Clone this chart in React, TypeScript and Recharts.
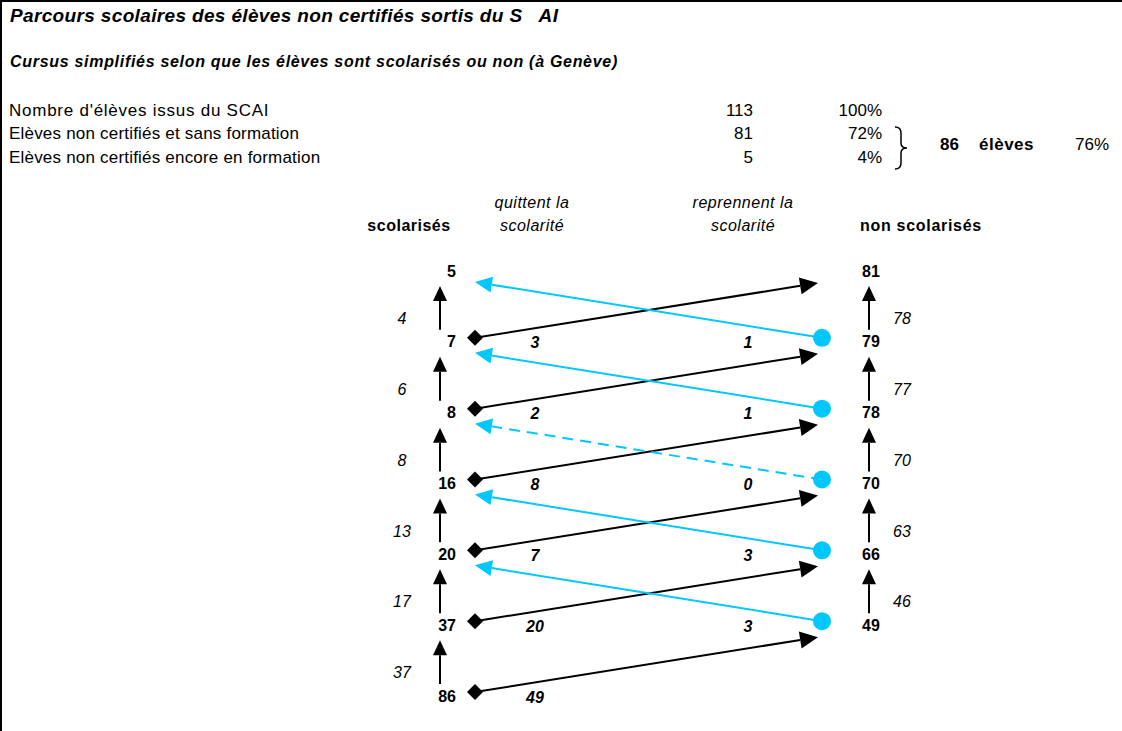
import React from 'react';
import { ComposedChart, Scatter, XAxis, YAxis, ReferenceLine } from 'recharts';

// rows from bottom (oldest) to top
const years = ['1995/96', '1996/97', '1997/98', '1998/99', '1999/00', '2000/01', '2001/02'];
const scolarises = [86, 37, 20, 16, 8, 7, 5];
const nonScolarises = [null, 49, 66, 70, 78, 79, 81];
// flows from year i to year i+1
const quittent = [49, 20, 7, 8, 2, 3];
const reprennent = [null, 3, 3, 0, 1, 1];
const restentScol = [37, 17, 13, 8, 6, 4];
const restentNon = [null, 46, 63, 70, 77, 78];

const summaryLabels = [
  "Nombre d'élèves issus du SCAI",
  'Elèves non certifiés et sans formation',
  'Elèves non certifiés encore en formation',
];
const summaryCounts = [113, 81, 5];
const summaryPct = ['100%', '72%', '4%'];
const groupTotal = 86;
const groupPct = '76%';

const W = 1122;
const H = 731;
const FONT = '"Liberation Sans", Arial, Helvetica, sans-serif';
const CYAN = '#00C8FF';

// pixel anchors for the two columns and for the bottom/top rows
const COL0 = 447;
const COL1 = 872;
const ROW0 = 696;
const ROW6 = 271;
const pxCol = COL1 - COL0;
const pxRow = (ROW0 - ROW6) / 6;
const X_DOMAIN: [number, number] = [-COL0 / pxCol, (W - COL0) / pxCol];
const Y_DOMAIN: [number, number] = [(ROW0 - H) / pxRow, ROW0 / pxRow];

const head = (sx: number, sy: number, tx: number, ty: number, len: number, half: number) => {
  const dx = tx - sx;
  const dy = ty - sy;
  const d = Math.hypot(dx, dy) || 1;
  const ux = dx / d;
  const uy = dy / d;
  const bx = tx - ux * len;
  const by = ty - uy * len;
  return {
    bx,
    by,
    points: `${tx},${ty} ${bx - uy * half},${by + ux * half} ${bx + uy * half},${by - ux * half}`,
  };
};

const QuitArrow = (p: any) => {
  const sx = p.x1 + 28, sy = p.y1 - 4, tx = p.x2 - 54, ty = p.y2 + 12;
  const h = head(sx, sy, tx, ty, 18, 8.5);
  return (
    <g>
      <line x1={sx} y1={sy} x2={h.bx} y2={h.by} stroke="#000" strokeWidth={2} />
      <polygon points={h.points} fill="#000" />
      <polygon points={`${sx - 8},${sy} ${sx},${sy - 8} ${sx + 8},${sy} ${sx},${sy + 8}`} fill="#000" />
    </g>
  );
};

const ReturnArrow = (dashed: boolean) => (p: any) => {
  const sx = p.x1 - 50, sy = p.y1 - 4, tx = p.x2 + 28, ty = p.y2 + 11;
  const h = head(sx, sy, tx, ty, 17, 8);
  return (
    <g>
      <line
        x1={sx} y1={sy} x2={h.bx} y2={h.by}
        stroke={CYAN} strokeWidth={2}
        strokeDasharray={dashed ? '11 7' : undefined}
      />
      <polygon points={h.points} fill={CYAN} />
      <circle cx={sx} cy={sy} r={9} fill={CYAN} />
    </g>
  );
};

const UpArrow = (dxPx: number) => (p: any) => {
  const x = p.x1 + dxPx, sy = p.y1 - 12, ty = p.y2 + 15;
  const h = head(x, sy, x, ty, 15, 7);
  return (
    <g>
      <line x1={x} y1={sy} x2={x} y2={h.by} stroke="#000" strokeWidth={2} />
      <polygon points={h.points} fill="#000" />
    </g>
  );
};

const txt = (dx: number, dy: number, anchor: string, weight: string, italic: boolean) => (p: any) => (
  <text
    x={p.cx + dx}
    y={p.cy + dy}
    dy="0.35em"
    textAnchor={anchor}
    fontFamily={FONT}
    fontSize={16}
    fontWeight={weight}
    fontStyle={italic ? 'italic' : 'normal'}
    fill="#000"
  >
    {p.payload.v}
  </text>
);

const YearTick = (p: any) => {
  const label = years[p.payload.value];
  return (
    <g>
      <text x={9} y={p.y} dy="0.35em" fontFamily={FONT} fontSize={17} fill="#000">année scolaire</text>
      <text x={182} y={p.y} dy="0.35em" fontFamily={FONT} fontSize={17} fill="#000">{label}</text>
    </g>
  );
};

const Label = ({ x, y, size = 17, anchor = 'start', bold = false, italic = false, spacing = 0, children }: any) => (
  <div
    style={{
      position: 'absolute',
      left: x,
      top: y - size / 2 - 1,
      fontSize: size,
      lineHeight: `${size + 2}px`,
      fontWeight: bold ? 'bold' : 'normal',
      fontStyle: italic ? 'italic' : 'normal',
      letterSpacing: spacing,
      whiteSpace: 'pre',
      transform: anchor === 'end' ? 'translateX(-100%)' : anchor === 'middle' ? 'translateX(-50%)' : undefined,
    }}
  >
    {children}
  </div>
);

export default function App() {
  const scolData = scolarises.map((v, i) => ({ x: 0, y: i, v }));
  const nonData = nonScolarises.flatMap((v, i) => (v == null ? [] : [{ x: 1, y: i, v }]));
  const quitData = quittent.map((v, i) => ({ x: 0, y: i, v }));
  const retData = reprennent.flatMap((v, i) => (v == null ? [] : [{ x: 1, y: i, v }]));
  const stayScolData = restentScol.map((v, i) => ({ x: 0, y: i + 0.5, v }));
  const stayNonData = restentNon.flatMap((v, i) => (v == null ? [] : [{ x: 1, y: i + 0.5, v }]));

  return (
    <div
      style={{
        position: 'absolute',
        left: 0,
        top: 0,
        width: W,
        height: H,
        background: '#fff',
        fontFamily: FONT,
        color: '#000',
        overflow: 'hidden',
      }}
    >
      <ComposedChart width={W} height={H} margin={{ top: 0, right: 0, bottom: 0, left: 0 }}>
        <XAxis type="number" dataKey="x" domain={X_DOMAIN} hide />
        <YAxis
          type="number"
          dataKey="y"
          domain={Y_DOMAIN}
          ticks={years.map((_, i) => i)}
          interval={0}
          width={0}
          axisLine={false}
          tickLine={false}
          tick={<YearTick />}
        />
        {quittent.map((v, i) => (
          <ReferenceLine
            key={`q${i}`}
            segment={[{ x: 0, y: i }, { x: 1, y: i + 1 }]}
            ifOverflow="visible"
            shape={QuitArrow}
          />
        ))}
        {reprennent.map((v, i) =>
          v == null ? null : (
            <ReferenceLine
              key={`r${i}`}
              segment={[{ x: 1, y: i }, { x: 0, y: i + 1 }]}
              ifOverflow="visible"
              shape={ReturnArrow(v === 0)}
            />
          )
        )}
        {restentScol.map((v, i) => (
          <ReferenceLine
            key={`s${i}`}
            segment={[{ x: 0, y: i }, { x: 0, y: i + 1 }]}
            ifOverflow="visible"
            shape={UpArrow(-7)}
          />
        ))}
        {restentNon.map((v, i) =>
          v == null ? null : (
            <ReferenceLine
              key={`n${i}`}
              segment={[{ x: 1, y: i }, { x: 1, y: i + 1 }]}
              ifOverflow="visible"
              shape={UpArrow(-3)}
            />
          )
        )}
        <Scatter data={scolData} isAnimationActive={false} shape={txt(9, 0, 'end', 'bold', false)} />
        <Scatter data={nonData} isAnimationActive={false} shape={txt(-10, 0, 'start', 'bold', false)} />
        <Scatter data={quitData} isAnimationActive={false} shape={txt(88, 1, 'middle', 'bold', true)} />
        <Scatter data={retData} isAnimationActive={false} shape={txt(-124, 1, 'middle', 'bold', true)} />
        <Scatter data={stayScolData} isAnimationActive={false} shape={txt(-45, 12, 'middle', 'normal', true)} />
        <Scatter data={stayNonData} isAnimationActive={false} shape={txt(30, 12, 'middle', 'normal', true)} />
      </ComposedChart>

      {/* frame */}
      <div style={{ position: 'absolute', left: 0, top: 0, width: W, height: 2, background: '#000' }} />
      <div style={{ position: 'absolute', left: 0, top: 0, width: 2, height: H, background: '#000' }} />

      <Label x={10} y={15} size={19} bold italic spacing={0.35}>{'Parcours scolaires des élèves non certifiés sortis du S   AI'}</Label>
      <Label x={10} y={62} size={16} bold italic spacing={0.7}>Cursus simplifiés selon que les élèves sont scolarisés ou non (à Genève)</Label>

      {summaryLabels.map((l, i) => (
        <Label key={l} x={9} y={110 + i * 23.5} spacing={i === 0 ? 0.75 : 0.2}>{l}</Label>
      ))}
      {summaryCounts.map((c, i) => (
        <Label key={`c${i}`} x={753} y={110 + i * 23.5} anchor="end">{c}</Label>
      ))}
      {summaryPct.map((c, i) => (
        <Label key={`p${i}`} x={882} y={110 + i * 23.5} anchor="end">{c}</Label>
      ))}
      <svg style={{ position: 'absolute', left: 892, top: 124 }} width={22} height={48}>
        <path
          d="M3,3 Q9,3 9,9 L9,19 Q9,24 15,24 Q9,24 9,29 L9,39 Q9,45 3,45"
          fill="none"
          stroke="#000"
          strokeWidth={1.5}
        />
      </svg>
      <Label x={940} y={144} bold>{groupTotal}</Label>
      <Label x={979} y={144} bold spacing={0.5}>élèves</Label>
      <Label x={1075} y={144}>{groupPct}</Label>

      <Label x={409} y={226} size={16} bold anchor="middle" spacing={0.5}>scolarisés</Label>
      <Label x={532} y={203} size={16} italic anchor="middle" spacing={0.5}>quittent la</Label>
      <Label x={532} y={226} size={16} italic anchor="middle" spacing={0.5}>scolarité</Label>
      <Label x={743} y={203} size={16} italic anchor="middle" spacing={0.5}>reprennent la</Label>
      <Label x={743} y={226} size={16} italic anchor="middle" spacing={0.5}>scolarité</Label>
      <Label x={860} y={226} size={16} bold spacing={0.7}>non scolarisés</Label>
    </div>
  );
}
